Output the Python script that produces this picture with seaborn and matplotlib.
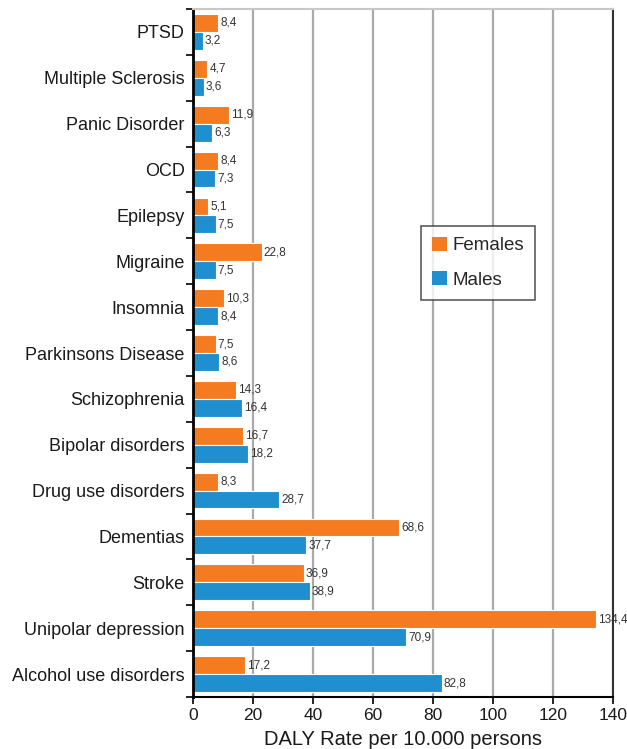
import pandas as pd
import seaborn as sns
import matplotlib.pyplot as plt
import numpy as np

# datos
enfermedades = ["PTSD", "Multiple Sclerosis", "Panic Disorder", "OCD", "Epilepsy",
                "Migraine", "Insomnia", "Parkinsons Disease", "Schizophrenia",
                "Bipolar disorders", "Drug use disorders", "Dementias", "Stroke",
                "Unipolar depression", "Alcohol use disorders"]
mujeres = [8.4, 4.7, 11.9, 8.4, 5.1, 22.8, 10.3, 7.5, 14.3, 16.7, 8.3, 68.6, 36.9, 134.4, 17.2]
hombres = [3.2, 3.6, 6.3, 7.3, 7.5, 7.5, 8.4, 8.6, 16.4, 18.2, 28.7, 37.7, 38.9, 70.9, 82.8]
x_ticks = [0, 20, 40, 60, 80, 100, 120, 140]

df = pd.DataFrame({
    "Enfermedad": enfermedades * 2,
    "Valor": mujeres + hombres,
    "Sexo": ["Females"] * len(mujeres) + ["Males"] * len(hombres),
})

sns.set_theme(style="white")
plt.rcParams["font.family"] = ["Liberation Sans", "DejaVu Sans"]

fig = plt.figure(figsize=(6.27, 7.49), dpi=100)
ax = fig.add_axes([0.308, 0.0694, 0.67, 0.9186])

sns.barplot(
    data=df, y="Enfermedad", x="Valor", hue="Sexo", orient="h",
    palette={"Females": "#F47B20", "Males": "#1F8FD0"}, saturation=1,
    width=0.78, edgecolor="white", linewidth=0.8, ax=ax,
)

for cont in ax.containers:
    etiquetas = [f"{v:.1f}".replace(".", ",") for v in cont.datavalues]
    ax.bar_label(cont, labels=etiquetas, padding=1.5, fontsize=8.5, color="#333333")

ax.set_xlim(0, 140)
ax.set_ylim(len(enfermedades) - 0.5, -0.5)
ax.set_xticks(x_ticks)
ax.set_xticklabels([str(t) for t in x_ticks], fontsize=12.5)
ax.tick_params(axis="x", length=5, width=1.2, color="black", direction="out", bottom=True, pad=3)
ax.tick_params(axis="y", which="major", length=0, labelsize=13, pad=6)
ax.set_yticks(np.arange(-0.5, len(enfermedades), 1), minor=True)
ax.tick_params(axis="y", which="minor", length=5, width=1.2, color="black", direction="out", left=True)
for lab in ax.get_yticklabels() + ax.get_xticklabels():
    lab.set_color("#1a1a1a")

ax.grid(axis="x", color="#aaaaaa", linewidth=1.6)
ax.set_axisbelow(True)

ax.spines["left"].set_color("black")
ax.spines["left"].set_linewidth(2)
ax.spines["bottom"].set_color("black")
ax.spines["bottom"].set_linewidth(1.5)
ax.spines["right"].set_color("#333333")
ax.spines["right"].set_linewidth(1.5)
ax.spines["top"].set_color("#c8c8c8")
ax.spines["top"].set_linewidth(1.5)

ax.set_ylabel("")
ax.set_xlabel("DALY Rate per 10.000 persons", fontsize=14.5, color="#1a1a1a", labelpad=5)

leg = ax.legend(
    loc="upper left", bbox_to_anchor=(0.543, 0.685), borderaxespad=0, frameon=True,
    fancybox=False, fontsize=13.5, handlelength=0.75, handleheight=0.75, handletextpad=0.3,
    labelspacing=0.9, borderpad=0.6, title=None,
)
leg.get_frame().set_edgecolor("#333333")
leg.get_frame().set_linewidth(1.2)
for h in leg.legend_handles:
    h.set_edgecolor("none")

fig.savefig("out.png", dpi=100)
